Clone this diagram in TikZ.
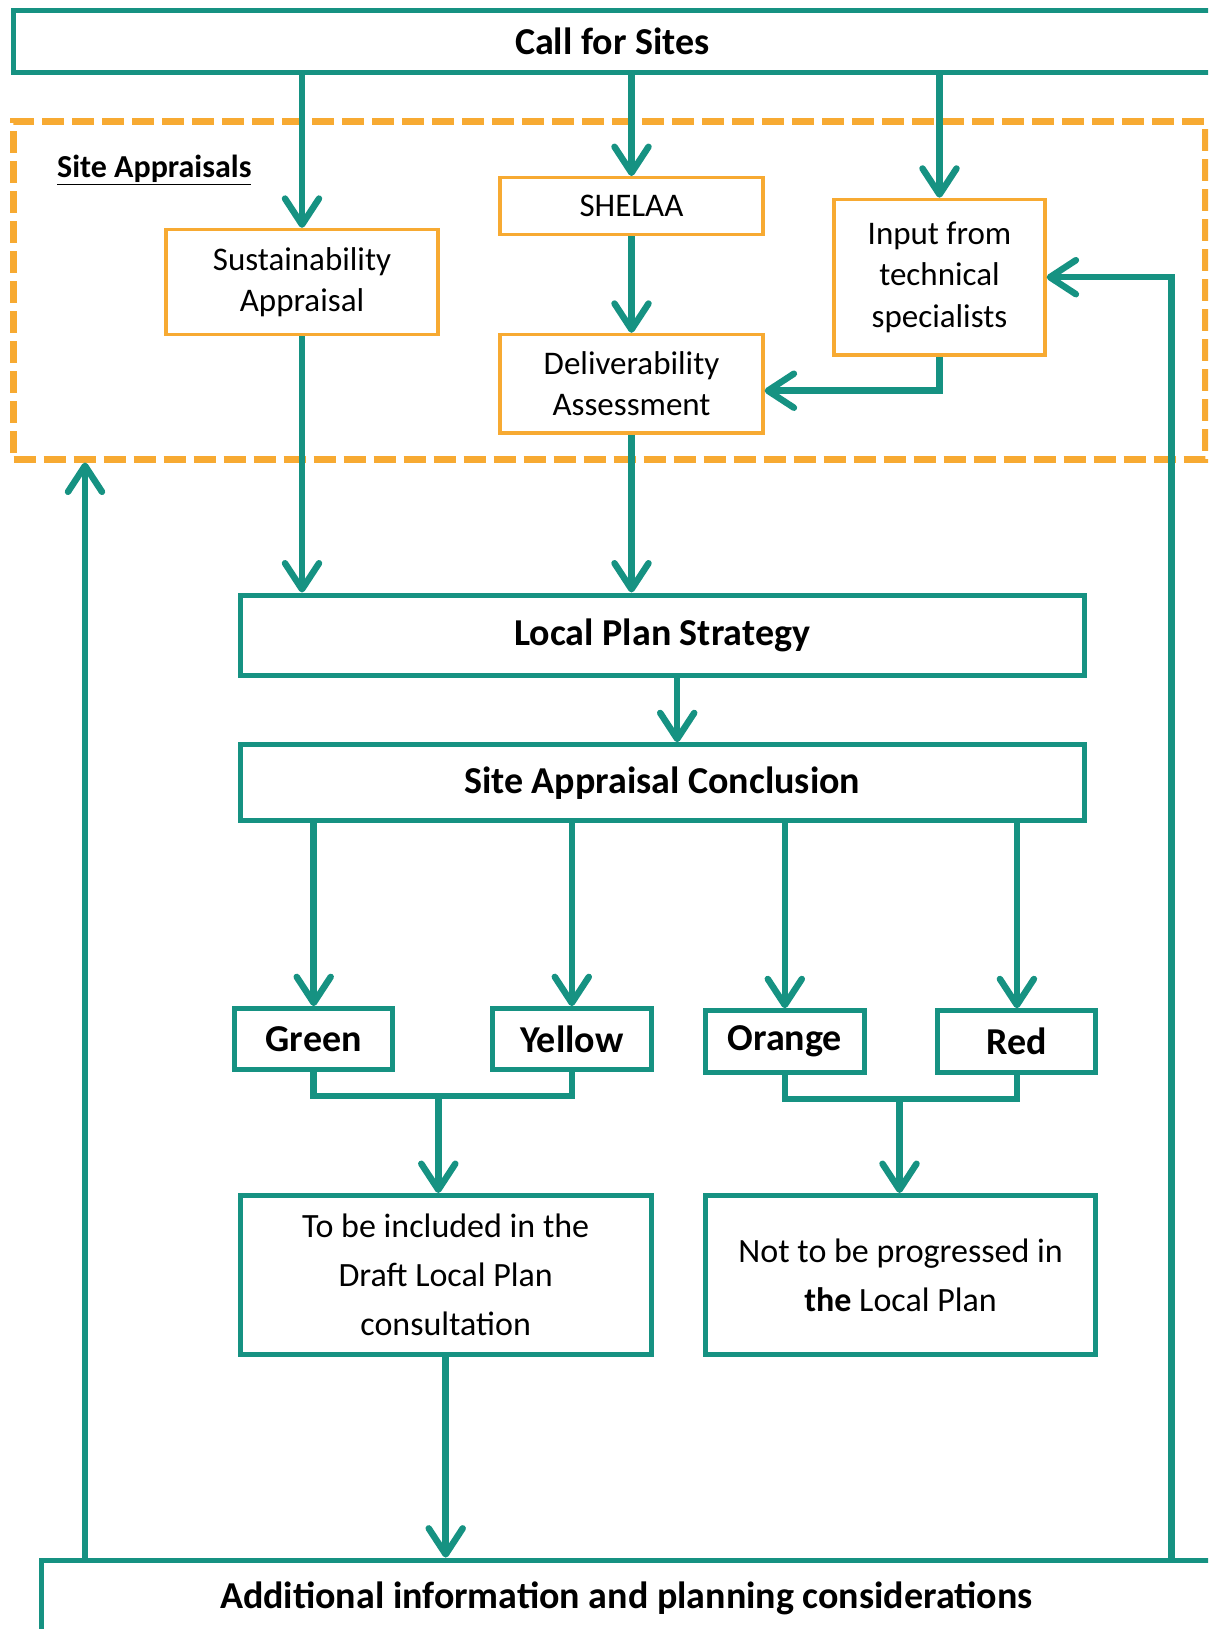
\documentclass[tikz,border=0pt]{standalone}
\usepackage{fontspec}
\setmainfont{Carlito}
\usetikzlibrary{arrows.meta, positioning}
\definecolor{sateal}{RGB}{22,146,130}
\definecolor{saorange}{RGB}{247,170,50}
\tikzset{
  tealbox/.style={draw=sateal, line width=5pt, inner sep=0pt, align=center},
  orangebox/.style={draw=saorange, line width=3.3pt, inner sep=0pt, align=center},
  flow/.style={draw=sateal, line width=6.5pt, -{Straight Barb[length=26pt,width=34pt,round]}},
  link/.style={draw=sateal, line width=6.5pt},
  headtext/.style={font=\fontsize{38}{46}\selectfont\bfseries},
  boxtext/.style={font=\fontsize{33}{41.5}\selectfont},
  lowtext/.style={font=\fontsize{34}{48.8}\selectfont},
}
\begin{document}
\begin{tikzpicture}[x=1pt,y=-1pt]
\useasboundingbox (0,0) rectangle (1208,1629);
\clip (0,0) rectangle (1208,1629);
% Site appraisals group
\node[draw=saorange, line width=7pt, dash pattern=on 22pt off 8pt, minimum width=1191.5pt, minimum height=337.5pt] (appr) at (609.3,290.3) {};
\node[anchor=base west, inner sep=0pt, font=\fontsize{32}{36}\selectfont\bfseries] (apprlbl) at (57,178) {\underline{Site Appraisals}};
\node[orangebox, boxtext, minimum width=272pt, minimum height=105pt] (sust) at (302,282) {Sustainability\\Appraisal};
\node[orangebox, boxtext, minimum width=263pt, minimum height=57pt] (shelaa) at (631.5,206.2) {SHELAA};
\node[orangebox, boxtext, minimum width=263pt, minimum height=98.5pt] (deliv) at (631.5,383.7) {Deliverability\\Assessment};
\node[orangebox, boxtext, minimum width=211pt, minimum height=155.6pt] (input) at (939.5,277.2) {Input from\\technical\\specialists};
% Main column
\node[tealbox, headtext, minimum width=1197.5pt, minimum height=62.3pt] (call) at (612.25,41.5) {Call for Sites};
\node[tealbox, headtext, minimum width=844.4pt, minimum height=80pt] (lps) at (662.2,635) {Local Plan Strategy};
\node[tealbox, headtext, minimum width=844.4pt, minimum height=76pt] (sac) at (662.2,782.7) {Site Appraisal Conclusion};
\node[tealbox, headtext, minimum width=158pt, minimum height=61.3pt] (green) at (313.7,1039.3) {Green};
\node[tealbox, headtext, minimum width=159pt, minimum height=61.3pt] (yellow) at (571.8,1039.3) {Yellow};
\node[tealbox, headtext, minimum width=159pt, minimum height=61.3pt] (orange) at (784.8,1041.4) {Orange};
\node[tealbox, headtext, minimum width=158pt, minimum height=61.3pt] (red) at (1016.9,1041.4) {Red};
\node[tealbox, lowtext, minimum width=411.3pt, minimum height=159pt] (incl) at (445.7,1275) {To be included in the\\Draft Local Plan\\consultation};
\node[tealbox, lowtext, minimum width=390.5pt, minimum height=159pt] (notprog) at (900.6,1275) {Not to be progressed in\\\textbf{the} Local Plan};
\node[tealbox, headtext, minimum width=1169.5pt, minimum height=77pt] (addl) at (626.25,1598.6) {Additional information and planning considerations};
% Junctions and loop ends
\coordinate (gy) at (438.3,1095.8);
\coordinate (orr) at (899.5,1099);
\coordinate (lft) at (85,1560);
\coordinate (rgt) at (1171.7,1560);
% Connectors
\draw[flow] (sust.north |- call.south) -- (sust.north);
\draw[flow] (shelaa.north |- call.south) -- (shelaa.north);
\draw[flow] (input.north |- call.south) -- (input.north);
\draw[flow] (shelaa.south) -- (deliv.north);
\draw[flow] (input.south) |- ([yshift=-7pt]deliv.east);
\draw[flow] (sust.south) -- (sust.south |- lps.north);
\draw[flow] (deliv.south) -- (deliv.south |- lps.north);
\draw[flow] ([xshift=15pt]lps.south) -- ([xshift=15pt]sac.north);
\draw[flow] (green.north |- sac.south) -- (green.north);
\draw[flow] (yellow.north |- sac.south) -- (yellow.north);
\draw[flow] (orange.north |- sac.south) -- (orange.north);
\draw[flow] (red.north |- sac.south) -- (red.north);
\draw[link] (green.south) |- (gy) -| (yellow.south);
\draw[link] (orange.south) |- (orr) -| (red.south);
\draw[flow] (gy) -- (gy |- incl.north);
\draw[flow] (orr) -- (orr |- notprog.north);
\draw[flow] (incl.south) -- (incl.south |- addl.north);
\draw[flow] (lft) -- (lft |- appr.south);
\draw[flow] (rgt) |- (input.east);
\end{tikzpicture}
\end{document}
